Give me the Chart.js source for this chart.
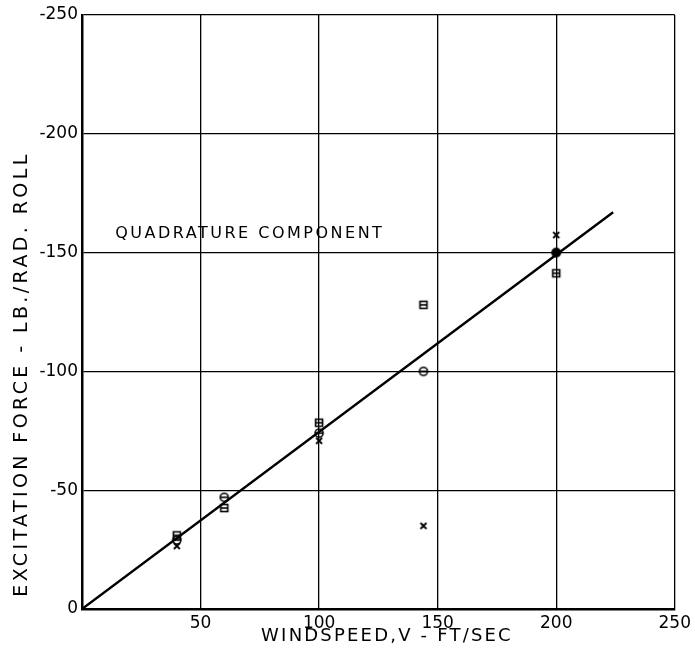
<!DOCTYPE html>
<html>
<head>
<meta charset="utf-8">
<script src="https://cdn.jsdelivr.net/npm/chart.js@4/dist/chart.umd.min.js"></script>
<style>
html,body{margin:0;padding:0;background:#fff;}
#wrap{width:695px;height:661px;position:relative;}
</style>
</head>
<body>
<div id="wrap"><canvas id="c" width="695" height="661"></canvas></div>
<script>
// ---- data ----
const xTicks = [0, 50, 100, 150, 200, 250];
const yTicks = [0, -50, -100, -150, -200, -250];

const squareV = [40, 60, 100, 144, 200];
const squareF = [-31, -42.5, -78.4, -128, -141.3];

const circleV = [40, 60, 100, 144];
const circleF = [-29, -47, -74, -100];

const solidV = [200];
const solidF = [-150];

const crossV = [40, 100, 144, 200];
const crossF = [-26.5, -70.8, -35, -157.4];

const fitV = [0, 224];
const fitF = [0, -167];

const annotationText = "QUADRATURE COMPONENT";
const annotationV = 14;
const annotationF = -158;

const xTitle = "WINDSPEED,V - FT/SEC";
const yTitle = "EXCITATION FORCE - LB./RAD. ROLL";

// ---- marker images ----
function marker(kind){
  const c = document.createElement('canvas');
  c.width = 14; c.height = 14;
  const g = c.getContext('2d');
  g.strokeStyle = '#000'; g.fillStyle = '#000'; g.lineWidth = 1.6;
  if (kind === 'square'){
    g.strokeRect(3.5, 3.5, 7, 7);
    g.beginPath(); g.moveTo(3.5, 7); g.lineTo(10.5, 7); g.stroke();
  } else if (kind === 'circle'){
    g.beginPath(); g.arc(7, 7, 4, 0, Math.PI*2); g.stroke();
    g.beginPath(); g.moveTo(3, 7); g.lineTo(11, 7); g.stroke();
  } else if (kind === 'solid'){
    g.beginPath(); g.arc(7, 7, 5, 0, Math.PI*2); g.fill();
  } else if (kind === 'cross'){
    g.lineWidth = 1.8;
    g.beginPath(); g.moveTo(4, 4); g.lineTo(10, 10); g.moveTo(10, 4); g.lineTo(4, 10); g.stroke();
  }
  return c;
}

const pts = (xs, ys) => xs.map((x, i) => ({x: x, y: ys[i]}));
const FONT = "'DejaVu Sans', sans-serif";

const textPlugin = {
  id: 'texts',
  afterDraw(chart){
    const ctx = chart.ctx;
    const xs = chart.scales.x, ys = chart.scales.y;
    ctx.save();
    ctx.fillStyle = '#000';
    // annotation
    ctx.font = "16px " + FONT;
    ctx.letterSpacing = '2.5px';
    ctx.textAlign = 'left'; ctx.textBaseline = 'middle';
    ctx.fillText(annotationText, xs.getPixelForValue(annotationV), ys.getPixelForValue(annotationF));
    // x title
    ctx.font = "18px " + FONT;
    ctx.letterSpacing = '2.2px';
    ctx.textAlign = 'center';
    ctx.fillText(xTitle, 387, 636);
    // y title
    ctx.translate(22, 374);
    ctx.rotate(-Math.PI/2);
    ctx.font = "19px " + FONT;
    ctx.letterSpacing = '3.4px';
    ctx.fillText(yTitle, 0, 0);
    ctx.restore();
  }
};

new Chart(document.getElementById('c'), {
  type: 'scatter',
  data: {
    datasets: [
      {data: pts(fitV, fitF), showLine: true, borderColor: '#000', borderWidth: 2.4, pointRadius: 0, fill: false},
      {data: pts(squareV, squareF), pointStyle: marker('square'), pointRadius: 7},
      {data: pts(circleV, circleF), pointStyle: marker('circle'), pointRadius: 7},
      {data: pts(solidV, solidF), pointStyle: marker('solid'), pointRadius: 7},
      {data: pts(crossV, crossF), pointStyle: marker('cross'), pointRadius: 7}
    ]
  },
  options: {
    responsive: false,
    animation: false,
    layout: {padding: {top: 15, right: 13, left: 0, bottom: 0}},
    plugins: {legend: {display: false}, tooltip: {enabled: false}},
    scales: {
      x: {
        type: 'linear', min: 0, max: 250,
        afterBuildTicks: s => { s.ticks = xTicks.map(v => ({value: v})); },
        afterFit: s => { s.height = 52; },
        ticks: {color: '#000', font: {family: FONT, size: 17}, padding: 4,
                maxRotation: 0, callback: v => v === 0 ? '' : String(v)},
        grid: {color: '#000', lineWidth: 1.3, drawTicks: false},
        border: {color: '#000', width: 2.5}
      },
      y: {
        type: 'linear', min: -250, max: 0, reverse: true,
        afterBuildTicks: s => { s.ticks = yTicks.map(v => ({value: v})); },
        afterFit: s => { s.width = 82; },
        ticks: {color: '#000', font: {family: FONT, size: 17}, padding: 4,
                callback: v => String(v)},
        grid: {color: '#000', lineWidth: 1.3, drawTicks: false},
        border: {color: '#000', width: 2.5}
      }
    }
  },
  plugins: [textPlugin]
});
</script>
</body>
</html>
